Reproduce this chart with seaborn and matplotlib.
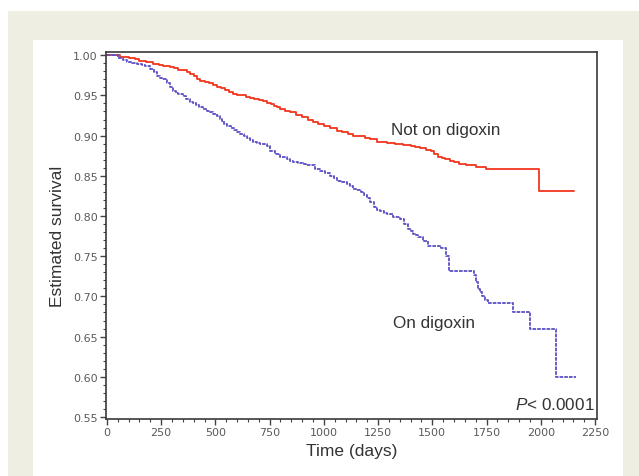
import numpy as np
import pandas as pd
import matplotlib
matplotlib.use("Agg")
import matplotlib.pyplot as plt
from matplotlib.patches import Rectangle
from matplotlib.ticker import MultipleLocator
import seaborn as sns

# ---- data ----
not_dig_days = [0, 60, 100, 130, 150, 180, 212, 240, 260, 291, 310, 330, 350, 370, 385, 400,
                415, 430, 450, 470, 490, 508, 525, 545, 565, 582, 600, 620, 640, 660, 680,
                700, 720, 739, 755, 770, 785, 799, 820, 845, 870, 900, 925, 952, 975, 1000,
                1030, 1062, 1085, 1110, 1135, 1160, 1190, 1215, 1247, 1290, 1330, 1365,
                1400, 1420, 1445, 1470, 1492, 1510, 1524, 1545, 1560, 1580, 1600, 1625,
                1653, 1700, 1746, 1991, 2152]
not_dig_surv = [1.000, 0.998, 0.996, 0.995, 0.993, 0.991, 0.989, 0.988, 0.987, 0.985, 0.984,
                0.982, 0.981, 0.979, 0.977, 0.974, 0.971, 0.968, 0.967, 0.965, 0.963, 0.961,
                0.959, 0.957, 0.954, 0.952, 0.951, 0.950, 0.948, 0.947, 0.946, 0.944, 0.943,
                0.941, 0.939, 0.937, 0.935, 0.933, 0.931, 0.929, 0.926, 0.923, 0.920, 0.917,
                0.915, 0.912, 0.909, 0.906, 0.904, 0.902, 0.900, 0.899, 0.897, 0.896, 0.892,
                0.891, 0.890, 0.888, 0.887, 0.886, 0.884, 0.882, 0.881, 0.877, 0.873, 0.872,
                0.871, 0.869, 0.867, 0.865, 0.863, 0.861, 0.858, 0.831, 0.831]

dig_days = [0, 50, 75, 92, 115, 139, 160, 175, 199, 215, 231, 245, 255, 277, 290, 305, 318,
            330, 351, 365, 383, 397, 410, 425, 443, 460, 475, 490, 508, 520, 530, 542, 554,
            570, 585, 600, 614, 630, 645, 660, 674, 690, 705, 722, 739, 753, 775, 799, 815,
            830, 845, 859, 880, 905, 920, 938, 960, 984, 1005, 1030, 1045, 1062, 1085, 1109,
            1122, 1136, 1150, 1169, 1185, 1201, 1215, 1229, 1245, 1260, 1275, 1293, 1320,
            1353, 1370, 1386, 1400, 1410, 1420, 1432, 1455, 1478, 1538, 1561, 1575, 1644,
            1690, 1700, 1709, 1720, 1730, 1745, 1755, 1871, 1949, 2069, 2162]
dig_surv = [1.000, 0.997, 0.994, 0.991, 0.990, 0.989, 0.988, 0.986, 0.983, 0.979, 0.974,
            0.972, 0.970, 0.966, 0.961, 0.955, 0.953, 0.952, 0.949, 0.946, 0.942, 0.940,
            0.938, 0.936, 0.933, 0.931, 0.929, 0.927, 0.924, 0.921, 0.918, 0.915, 0.912,
            0.910, 0.907, 0.905, 0.902, 0.900, 0.897, 0.895, 0.892, 0.891, 0.890, 0.889,
            0.887, 0.881, 0.877, 0.874, 0.873, 0.871, 0.869, 0.867, 0.866, 0.865, 0.864,
            0.863, 0.859, 0.856, 0.853, 0.850, 0.847, 0.844, 0.842, 0.840, 0.837, 0.834,
            0.832, 0.830, 0.826, 0.823, 0.817, 0.811, 0.808, 0.806, 0.804, 0.802, 0.799,
            0.796, 0.790, 0.784, 0.781, 0.778, 0.776, 0.774, 0.769, 0.763, 0.760, 0.750,
            0.732, 0.731, 0.727, 0.718, 0.709, 0.705, 0.700, 0.696, 0.692, 0.681, 0.659,
            0.600, 0.600]

group_labels = ["Not on digoxin", "On digoxin"]
x_ticks = [0, 250, 500, 750, 1000, 1250, 1500, 1750, 2000, 2250]
y_ticks = [0.55, 0.60, 0.65, 0.70, 0.75, 0.80, 0.85, 0.90, 0.95, 1.00]
p_text = r"$\mathit{P}$< 0.0001"

df_not = pd.DataFrame({"days": not_dig_days, "surv": not_dig_surv})
df_dig = pd.DataFrame({"days": dig_days, "surv": dig_surv})

sns.set_theme(style="ticks")
plt.rcParams["font.family"] = ["Liberation Sans", "DejaVu Sans"]
plt.rcParams["mathtext.fontset"] = "custom"
plt.rcParams["mathtext.it"] = "Liberation Sans:italic"
plt.rcParams["mathtext.rm"] = "Liberation Sans"

fig = plt.figure(figsize=(6.39, 4.77), dpi=100)
fig.patch.set_facecolor("white")
W, H = 639.0, 477.0
# beige frame and white panel
fig.patches.append(Rectangle((8 / W, 0), (W - 8) / W, (H - 12) / H,
                             transform=fig.transFigure, facecolor="#efeee3",
                             edgecolor="none", zorder=-10))
fig.patches.append(Rectangle((33 / W, 0), (623 - 33) / W, (H - 41) / H,
                             transform=fig.transFigure, facecolor="white",
                             edgecolor="none", zorder=-9))

ax = fig.add_axes([106 / W, (H - 420) / H, (597 - 106) / W, (420 - 53) / H])
ax.set_facecolor("white")

sns.lineplot(data=df_not, x="days", y="surv", ax=ax, estimator=None,
             drawstyle="steps-post", color="#f2361c", linewidth=1.3)
sns.lineplot(data=df_dig, x="days", y="surv", ax=ax, estimator=None,
             drawstyle="steps-post", color="#5b4fc4", linewidth=1.3,
             linestyle=(0, (2.0, 0.6)))

ax.set_xlim(-4, 2259)
ax.set_ylim(0.5475, 1.004)
ax.set_xticks(x_ticks)
ax.set_yticks(y_ticks)
ax.set_yticklabels([f"{v:.2f}" for v in y_ticks])
ax.xaxis.set_minor_locator(MultipleLocator(50))
ax.yaxis.set_minor_locator(MultipleLocator(0.01))
ax.tick_params(axis="both", which="major", direction="out", length=4, width=1,
               color="#444444", labelsize=8, labelcolor="#5a5a5a", pad=2)
ax.tick_params(axis="both", which="minor", direction="out", length=2, width=0.8,
               color="#444444")
for lbl in ax.get_xticklabels() + ax.get_yticklabels():
    lbl.set_family("DejaVu Sans")
for sp in ax.spines.values():
    sp.set_visible(True)
    sp.set_color("#3a3a3a")
    sp.set_linewidth(1.2)

ax.set_xlabel("Time (days)", fontsize=12.5, color="#333333", labelpad=4)
ax.set_ylabel("Estimated survival", fontsize=12.5, color="#333333", labelpad=6)

ax.text(1309, 0.907, group_labels[0], fontsize=12.3, color="#333333", va="center", ha="left")
ax.text(1318, 0.668, group_labels[1], fontsize=12.3, color="#333333", va="center", ha="left")
ax.text(2248, 0.566, p_text, fontsize=12.3, color="#333333", va="center", ha="right")

fig.savefig("out.png", dpi=100, facecolor=fig.get_facecolor())
